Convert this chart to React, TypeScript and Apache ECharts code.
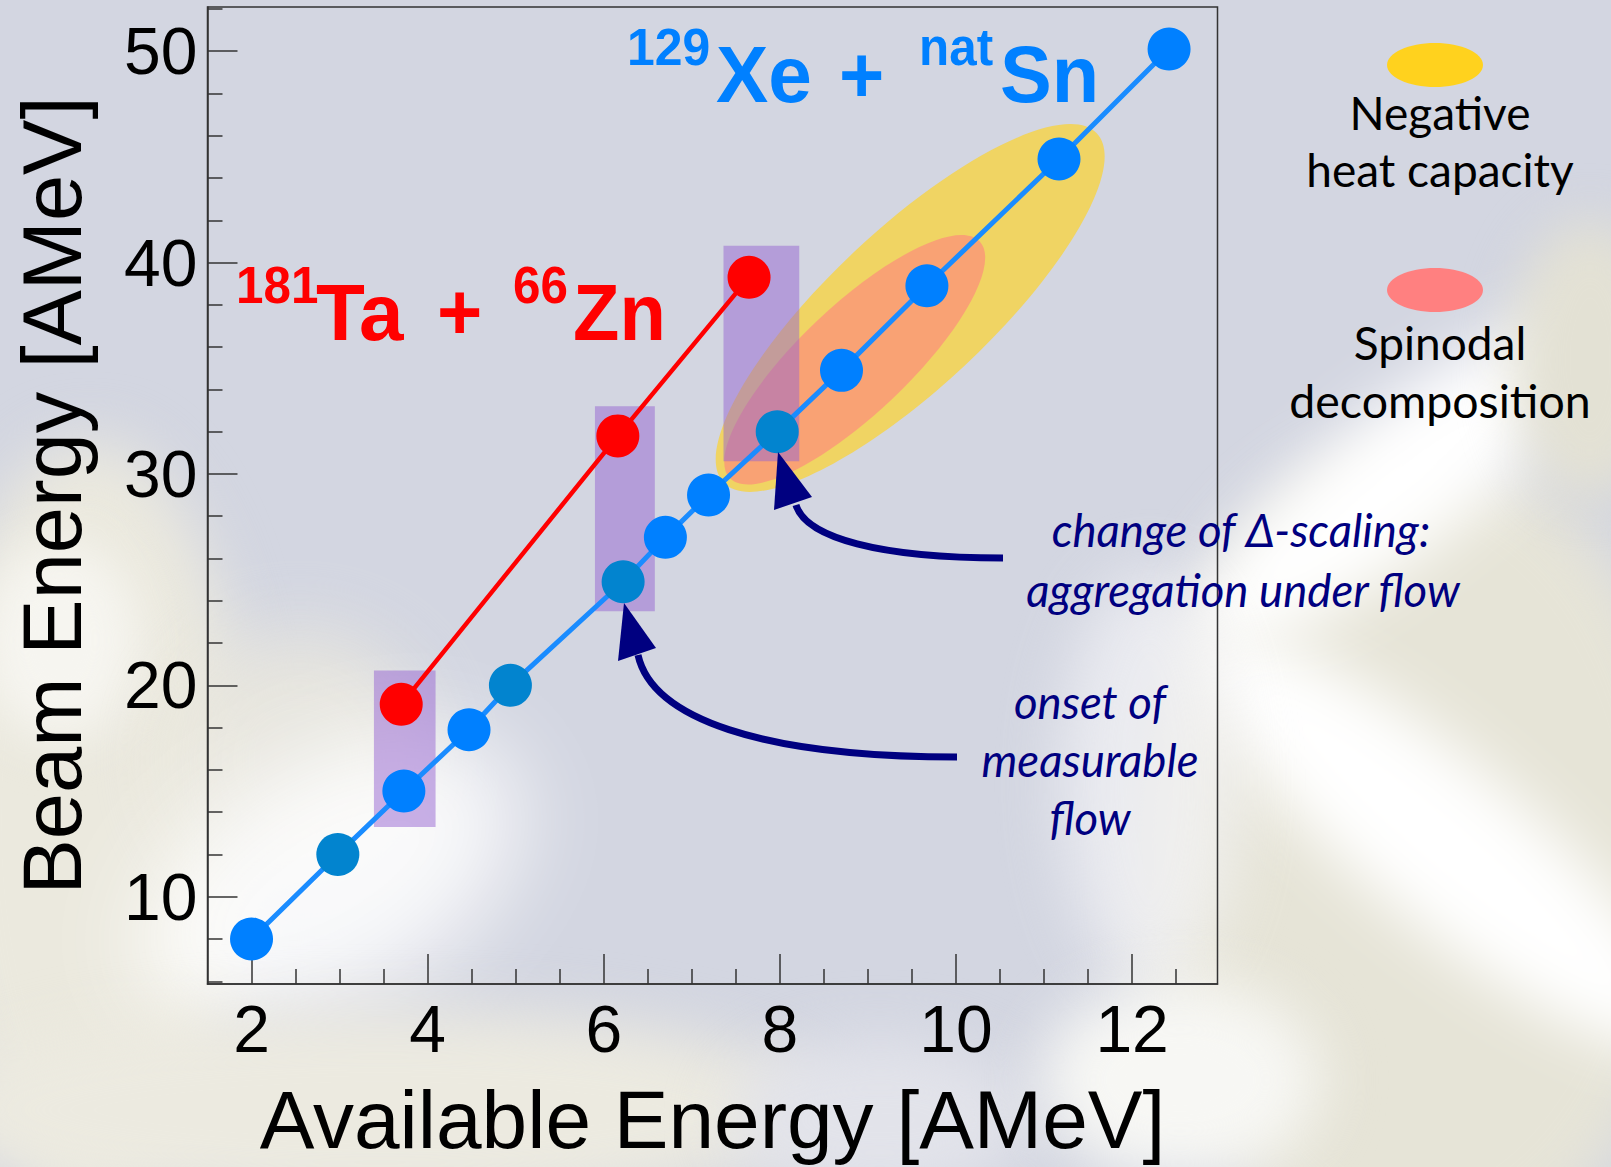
import React, { useEffect, useRef } from "react";
import * as echarts from "echarts";

// ---------- data ----------
const xeSnX = [2.0, 2.98, 3.73, 4.47, 4.94, 6.22, 6.7, 7.19, 7.97, 8.7, 9.67, 11.17, 12.42];
const xeSnY = [8.0, 12.0, 15.0, 17.9, 20.0, 24.9, 27.0, 29.0, 32.0, 34.9, 38.9, 44.9, 50.1];
const xeSnDark = [false, true, false, false, true, true, false, false, true, false, false, false, false];
const taZnX = [3.7, 6.16, 7.65];
const taZnY = [19.1, 31.8, 39.3];
const bandXMin = [3.39, 5.9, 7.36];
const bandXMax = [4.09, 6.58, 8.22];
const bandYMin = [13.3, 23.5, 30.6];
const bandYMax = [20.7, 33.2, 40.8];
const regionNames = ["Negative heat capacity", "Spinodal decomposition"];
const regionX1 = [7.36, 7.43];
const regionY1 = [29.6, 29.8];
const regionX2 = [11.6, 10.27];
const regionY2 = [46.1, 41.0];
const regionRatio = [0.31, 0.315];
const xMajorTicks = [2, 4, 6, 8, 10, 12];
const xMinorTicks = [2.5, 3, 3.5, 4.5, 5, 5.5, 6.5, 7, 7.5, 8.5, 9, 9.5, 10.5, 11, 11.5, 12.5];
const yMajorTicks = [10, 20, 30, 40, 50];
const yMinorTicks = [6, 8, 12, 14, 16, 18, 22, 24, 26, 28, 32, 34, 36, 38, 42, 44, 46, 48, 52];

// ---------- styling ----------
const W = 1611;
const H = 1167;
const BLUE = "#0080ff";
const DARK_BLUE = "#0284cf";
const RED = "#ff0000";
const NAVY = "#000080";
const REGION_COLORS = ["rgba(255,210,30,0.65)", "rgba(255,128,128,0.6)"];
const SANS = '"Liberation Sans", Arial, sans-serif';

// decorative blurred background (photo approximation)
const BLOBS: { cx: number; cy: number; w: number; h: number; rot: number; color: string; blur: number; op: number }[] = [
  { cx: 90, cy: 820, w: 320, h: 760, rot: 0, color: "#ebe9de", blur: 30, op: 1 },
  { cx: 60, cy: 640, w: 160, h: 200, rot: 0, color: "#f6f5f0", blur: 25, op: 1 },
  { cx: 300, cy: 760, w: 260, h: 260, rot: 0, color: "#e9e7de", blur: 35, op: 0.9 },
  { cx: 330, cy: 880, w: 420, h: 240, rot: -30, color: "#ffffff", blur: 45, op: 0.85 },
  { cx: 380, cy: 1110, w: 900, h: 200, rot: 0, color: "#eceae0", blur: 30, op: 1 },
  { cx: 880, cy: 1120, w: 300, h: 160, rot: 0, color: "#e2e3ea", blur: 30, op: 1 },
  { cx: 1420, cy: 860, w: 560, h: 820, rot: 0, color: "#e6e4d7", blur: 30, op: 1 },
  { cx: 1440, cy: 840, w: 620, h: 160, rot: 40, color: "#ffffff", blur: 30, op: 1 },
  { cx: 1400, cy: 480, w: 520, h: 140, rot: -38, color: "#ffffff", blur: 30, op: 1 },
  { cx: 1590, cy: 360, w: 160, h: 280, rot: 0, color: "#e3e1d4", blur: 25, op: 1 },
  { cx: 1150, cy: 780, w: 180, h: 420, rot: 0, color: "#f4f4f7", blur: 30, op: 0.7 },
  { cx: 1180, cy: 1080, w: 280, h: 200, rot: 0, color: "#f7f7f4", blur: 30, op: 1 },
];

function txt(text: string, x: number, y: number, font: string, fill: string, align: string, scaleX = 1) {
  return {
    type: "text",
    x,
    y,
    scaleX,
    z: 100,
    silent: true,
    style: {
      text,
      font,
      fill,
      align,
      textAlign: align,
      verticalAlign: "middle",
      textVerticalAlign: "middle",
    },
  };
}

export default function App() {
  const ref = useRef<HTMLDivElement>(null);

  useEffect(() => {
    if (!ref.current) return;
    const chart = echarts.init(ref.current, null, { renderer: "svg" });

    const gridRect = { left: 207.5, top: 7, width: 1010, height: 977 };
    const xMin = 1.5;
    const xMax = 12.97;
    const yMin = 5.87;
    const yMax = 52.09;
    const axisColor = "#333";

    const xeSnData = xeSnX.map((x, i) => ({
      value: [x, xeSnY[i]],
      itemStyle: { color: xeSnDark[i] ? DARK_BLUE : BLUE },
    }));
    const taZnData = taZnX.map((x, i) => [x, taZnY[i]]);
    const bandData = bandXMin.map((x, i) => [x, bandXMax[i], bandYMin[i], bandYMax[i]]);
    const regionData = regionX1.map((x, i) => ({
      name: regionNames[i],
      value: [x, regionY1[i], regionX2[i], regionY2[i], regionRatio[i], i],
    }));

    const supFont = `bold 52px ${SANS}`;
    const bigFont = `bold 80px ${SANS}`;
    const noteFont = 'italic 46px Lato, "Open Sans", sans-serif';
    const legFont = '46px Lato, "Open Sans", sans-serif';

    const option: any = {
      animation: false,
      backgroundColor: "transparent",
      grid: [
        { ...gridRect, show: true, borderColor: axisColor, borderWidth: 1.5, backgroundColor: "transparent" },
        { ...gridRect, show: false },
      ],
      xAxis: [
        {
          type: "value",
          gridIndex: 0,
          min: xMin,
          max: xMax,
          axisLine: { show: true, lineStyle: { color: axisColor, width: 1.5 } },
          axisTick: { show: true, inside: true, length: 30, customValues: xMajorTicks, lineStyle: { color: axisColor, width: 1.5 } },
          axisLabel: { customValues: xMajorTicks, fontSize: 66, fontFamily: SANS, color: "#000", margin: 12 },
          splitLine: { show: false },
          name: "Available Energy [AMeV]",
          nameLocation: "middle",
          nameGap: 94,
          nameTextStyle: { fontSize: 82, fontFamily: SANS, color: "#000" },
        },
        {
          type: "value",
          gridIndex: 1,
          min: xMin,
          max: xMax,
          axisLine: { show: false },
          axisTick: { show: true, inside: true, length: 15, customValues: xMinorTicks, lineStyle: { color: axisColor, width: 1.5 } },
          axisLabel: { show: false },
          splitLine: { show: false },
        },
      ],
      yAxis: [
        {
          type: "value",
          gridIndex: 0,
          min: yMin,
          max: yMax,
          axisLine: { show: true, lineStyle: { color: axisColor, width: 1.5 } },
          axisTick: { show: true, inside: true, length: 30, customValues: yMajorTicks, lineStyle: { color: axisColor, width: 1.5 } },
          axisLabel: { customValues: yMajorTicks, fontSize: 66, fontFamily: SANS, color: "#000", margin: 10 },
          splitLine: { show: false },
          name: "Beam Energy [AMeV]",
          nameLocation: "middle",
          nameGap: 114,
          nameTextStyle: { fontSize: 83, fontFamily: SANS, color: "#000" },
        },
        {
          type: "value",
          gridIndex: 1,
          min: yMin,
          max: yMax,
          axisLine: { show: false },
          axisTick: { show: true, inside: true, length: 15, customValues: yMinorTicks, lineStyle: { color: axisColor, width: 1.5 } },
          axisLabel: { show: false },
          splitLine: { show: false },
        },
      ],
      series: [
        {
          type: "custom",
          name: "regions",
          coordinateSystem: "cartesian2d",
          xAxisIndex: 0,
          yAxisIndex: 0,
          z: 1,
          silent: true,
          encode: { x: [0, 2], y: [1, 3] },
          data: regionData,
          renderItem: (_p: any, api: any) => {
            const p1 = api.coord([api.value(0), api.value(1)]);
            const p2 = api.coord([api.value(2), api.value(3)]);
            const dx = p2[0] - p1[0];
            const dy = p2[1] - p1[1];
            const a = Math.hypot(dx, dy) / 2;
            const b = a * api.value(4);
            return {
              type: "ellipse",
              x: (p1[0] + p2[0]) / 2,
              y: (p1[1] + p2[1]) / 2,
              rotation: -Math.atan2(dy, dx),
              shape: { cx: 0, cy: 0, rx: a, ry: b },
              style: { fill: REGION_COLORS[api.value(5)] },
            };
          },
        },
        {
          type: "custom",
          name: "bands",
          coordinateSystem: "cartesian2d",
          xAxisIndex: 0,
          yAxisIndex: 0,
          z: 2,
          silent: true,
          encode: { x: [0, 1], y: [2, 3] },
          data: bandData,
          renderItem: (_p: any, api: any) => {
            const tl = api.coord([api.value(0), api.value(3)]);
            const br = api.coord([api.value(1), api.value(2)]);
            return {
              type: "rect",
              shape: { x: tl[0], y: tl[1], width: br[0] - tl[0], height: br[1] - tl[1] },
              style: { fill: "rgba(150,100,210,0.5)" },
            };
          },
        },
        {
          type: "line",
          name: "129Xe + natSn",
          xAxisIndex: 0,
          yAxisIndex: 0,
          z: 3,
          data: xeSnData,
          symbol: "circle",
          symbolSize: 43,
          lineStyle: { color: "#1a8cff", width: 5 },
          itemStyle: { color: BLUE, borderWidth: 0 },
          emphasis: { disabled: true },
        },
        {
          type: "line",
          name: "181Ta + 66Zn",
          xAxisIndex: 0,
          yAxisIndex: 0,
          z: 3,
          data: taZnData,
          symbol: "circle",
          symbolSize: 43,
          lineStyle: { color: RED, width: 4.5 },
          itemStyle: { color: RED, borderWidth: 0 },
          emphasis: { disabled: true },
        },
      ],
      graphic: [
        // system labels
        txt("181", 236, 285, supFont, RED, "left", 0.95),
        txt("Ta", 316, 312, bigFont, RED, "left", 1.0),
        txt("+", 437, 312, bigFont, RED, "left", 0.97),
        txt("66", 513, 285, supFont, RED, "left", 0.95),
        txt("Zn", 573, 312, bigFont, RED, "left", 0.95),
        txt("129", 627, 47, supFont, BLUE, "left", 0.96),
        txt("Xe", 716, 74.5, bigFont, BLUE, "left", 0.98),
        txt("+", 839, 74.5, bigFont, BLUE, "left", 0.97),
        txt("nat", 919, 47, supFont, BLUE, "left", 0.95),
        txt("Sn", 1000, 74.5, bigFont, BLUE, "left", 0.97),
        // legend for regions
        { type: "ellipse", z: 100, silent: true, shape: { cx: 1435, cy: 65, rx: 48, ry: 22 }, style: { fill: "#ffd21e" } },
        { type: "ellipse", z: 100, silent: true, shape: { cx: 1435, cy: 290, rx: 48, ry: 22 }, style: { fill: "#ff8080" } },
        txt("Negative", 1440, 112, legFont, "#000", "center"),
        txt("heat capacity", 1440, 169, legFont, "#000", "center"),
        txt("Spinodal", 1440, 342, legFont, "#000", "center"),
        txt("decomposition", 1440, 400, legFont, "#000", "center", 1.01),
        // annotations
        txt("change of \u0394-scaling:", 1241, 529, noteFont, NAVY, "center", 0.99),
        txt("aggregation under flow", 1243, 589, noteFont, NAVY, "center", 0.99),
        txt("onset of", 1090, 701, noteFont, NAVY, "center", 0.99),
        txt("measurable", 1090, 759, noteFont, NAVY, "center", 0.99),
        txt("flow", 1090, 817, noteFont, NAVY, "center", 0.99),
        // arrows
        {
          type: "bezierCurve",
          z: 100,
          silent: true,
          shape: { x1: 1003, y1: 558, cpx1: 880, cpy1: 558, cpx2: 806, cpy2: 538, x2: 796, y2: 505 },
          style: { stroke: NAVY, lineWidth: 7, fill: "none" },
        },
        { type: "polygon", z: 100, silent: true, shape: { points: [[778, 452], [774, 510], [812, 497]] }, style: { fill: NAVY } },
        {
          type: "bezierCurve",
          z: 100,
          silent: true,
          shape: { x1: 957, y1: 757, cpx1: 760, cpy1: 757, cpx2: 652, cpy2: 718, x2: 638, y2: 655 },
          style: { stroke: NAVY, lineWidth: 7, fill: "none" },
        },
        { type: "polygon", z: 100, silent: true, shape: { points: [[624, 603], [618, 661], [656, 648]] }, style: { fill: NAVY } },
      ],
    };

    chart.setOption(option);
    return () => chart.dispose();
  }, []);

  return (
    <div
      style={{
        position: "fixed",
        left: 0,
        top: 0,
        width: W,
        height: H,
        overflow: "hidden",
        background: "#d3d6e1",
      }}
    >
      {BLOBS.map((b, i) => (
        <div
          key={i}
          style={{
            position: "absolute",
            left: b.cx - b.w / 2,
            top: b.cy - b.h / 2,
            width: b.w,
            height: b.h,
            borderRadius: "50%",
            background: b.color,
            opacity: b.op,
            filter: `blur(${b.blur}px)`,
            transform: `rotate(${b.rot}deg)`,
          }}
        />
      ))}
      <div ref={ref} style={{ position: "absolute", left: 0, top: 0, width: W, height: H }} />
    </div>
  );
}
